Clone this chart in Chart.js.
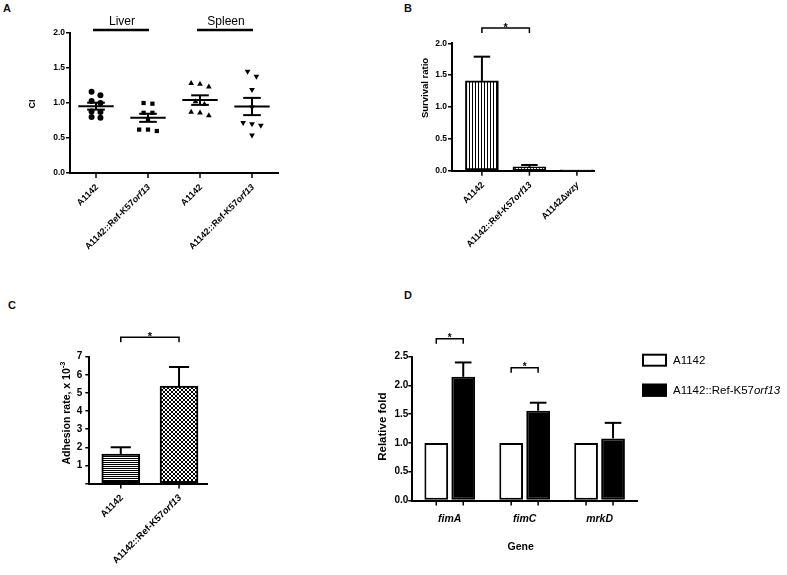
<!DOCTYPE html>
<html>
<head>
<meta charset="utf-8">
<script src="https://cdn.jsdelivr.net/npm/chart.js@4.4.1/dist/chart.umd.min.js"></script>
<style>
  body { margin: 0; width: 787px; height: 575px; background: #fff; position: relative; overflow: hidden;
         font-family: "Liberation Sans", Arial, sans-serif; }
  canvas { position: absolute; }
  .tag { position: absolute; font-weight: bold; font-size: 11px; line-height: 11px; color: #111; }
</style>
</head>
<body>
<div class="tag" style="left:3px;top:3px">A</div>
<div class="tag" style="left:404px;top:3px">B</div>
<div class="tag" style="left:8px;top:300px">C</div>
<div class="tag" style="left:404px;top:290px">D</div>
<canvas id="chartA"></canvas>
<canvas id="chartB"></canvas>
<canvas id="chartC"></canvas>
<canvas id="chartD"></canvas>
<script>
// ---- data ----
// A: competitive index, liver / spleen
const groupsA = ['A1142', 'A1142::Ref-K57orf13', 'A1142', 'A1142::Ref-K57orf13'];
const liverWt = [1.16, 1.11, 1.03, 1.00, 0.88, 0.87, 0.80, 0.79];
const liverRef = [1.00, 0.99, 0.86, 0.86, 0.76, 0.62, 0.60, 0.62];
const spleenWt = [1.28, 1.27, 1.23, 1.02, 0.98, 0.87, 0.86, 0.82];
const spleenRef = [1.45, 1.38, 1.19, 0.94, 0.72, 0.70, 0.68, 0.54];
const organs = ['Liver', 'Spleen'];

// B: survival ratio
const strainsB = ['A1142', 'A1142::Ref-K57orf13', 'A1142\u0394wzy'];
const survival = [1.41, 0.06, 0.01];
const survivalErr = [0.38, 0.03, 0];

// C: adhesion rate (x 10^-3)
const strainsC = ['A1142', 'A1142::Ref-K57orf13'];
const adhesion = [1.62, 5.38];
const adhesionErr = [0.38, 1.05];

// D: relative fold per gene
const genes = ['fimA', 'fimC', 'mrkD'];
const seriesD = ['A1142', 'A1142::Ref-K57orf13'];
const foldWt = [1, 1, 1];
const foldRef = [2.15, 1.56, 1.08];
const foldRefErr = [0.25, 0.14, 0.27];

// significance brackets: [from bar, to bar, height in axis units]
const sigB = [[0, 1, 2.24]];
const sigC = [[0, 1, 8.08]];
const sigD = [[0, 2.81], [1, 2.31]];

const FONT = '"Liberation Sans", Arial, sans-serif';
Chart.defaults.font.family = FONT;
Chart.defaults.color = '#000';

function font(size, bold, italic) {
  return (italic ? 'italic ' : '') + (bold ? 'bold ' : '') + size + 'px ' + FONT;
}

function richParts(label, allItalic) {
  if (allItalic) return [{t: label, i: true}];
  return label.split(/(orf13|wzy)/).filter(s => s).map(s => ({t: s, i: /^(orf13|wzy)$/.test(s)}));
}

function drawParts(ctx, parts, x, y, angle, size, bold, align) {
  ctx.save();
  ctx.translate(x, y);
  ctx.rotate(angle);
  ctx.textBaseline = 'middle';
  ctx.textAlign = 'left';
  ctx.fillStyle = '#000';
  let widths = parts.map(p => { ctx.font = font(p.sup ? size * 0.7 : size, bold, p.i); return ctx.measureText(p.t).width; });
  let total = widths.reduce((a, b) => a + b, 0);
  let cx = align === 'right' ? -total : (align === 'center' ? -total / 2 : 0);
  parts.forEach((p, k) => {
    ctx.font = font(p.sup ? size * 0.7 : size, bold, p.i);
    ctx.fillText(p.t, cx, p.sup ? -size * 0.4 : 0);
    cx += widths[k];
  });
  ctx.restore();
}

function line(ctx, x1, y1, x2, y2, w) {
  ctx.lineWidth = w;
  ctx.beginPath();
  ctx.moveTo(x1, y1);
  ctx.lineTo(x2, y2);
  ctx.stroke();
}

function tickMarks(chart, xs) {
  let b = chart.chartArea.bottom;
  xs.forEach(px => line(chart.ctx, px, b, px, b + 5, 1.5));
}

function slantLabels(chart, xs, labels, size) {
  let b = chart.chartArea.bottom;
  xs.forEach((px, i) => drawParts(chart.ctx, richParts(labels[i]), px + 1, b + 13, -Math.PI / 4, size, true, 'right'));
}

// vertical axis title, placed relative to the plot area
function yTitle(chart, parts, dx, dy, size) {
  let area = chart.chartArea;
  drawParts(chart.ctx, parts, area.left + dx, (area.top + area.bottom) / 2 + dy, -Math.PI / 2, size, true, 'center');
}

function errorBars(chart, dsIndex, values, errs, capFrac) {
  let ctx = chart.ctx, y = chart.scales.y;
  chart.getDatasetMeta(dsIndex).data.forEach((el, i) => {
    if (!errs[i]) return;
    let top = y.getPixelForValue(values[i] + errs[i]);
    let half = el.width * capFrac / 2;
    line(ctx, el.x, el.y, el.x, top, 2);
    line(ctx, el.x - half, top, el.x + half, top, 2);
  });
}

function bracket(chart, x1, x2, level, starSize) {
  let ctx = chart.ctx;
  let py = chart.scales.y.getPixelForValue(level);
  ctx.lineWidth = 1.5;
  ctx.beginPath();
  ctx.moveTo(x1, py + 5);
  ctx.lineTo(x1, py);
  ctx.lineTo(x2, py);
  ctx.lineTo(x2, py + 5);
  ctx.stroke();
  ctx.font = font(starSize, true, false);
  ctx.textAlign = 'center';
  ctx.textBaseline = 'alphabetic';
  ctx.fillText('*', (x1 + x2) / 2, py - 1 + starSize * 0.35);
}

function pattern(w, h, cells) {
  let c = document.createElement('canvas');
  c.width = w; c.height = h;
  let g = c.getContext('2d');
  g.fillStyle = '#fff';
  g.fillRect(0, 0, w, h);
  g.fillStyle = '#000';
  cells.forEach(p => g.fillRect(p[0], p[1], 1, 1));
  return g.createPattern(c, 'repeat');
}

const vStripes = pattern(3, 1, [[0, 0]]);
const dots = pattern(3, 2, [[1, 0]]);
const hLines = pattern(1, 2, [[0, 0]]);
const crossHatch = pattern(4, 4, [[0, 0], [1, 1], [2, 2], [3, 3], [3, 0], [2, 1], [1, 2], [0, 3]]);

function place(id, box, area, yw, xh) {
  let c = document.getElementById(id);
  c.width = box.w; c.height = box.h;
  c.style.left = box.l + 'px'; c.style.top = box.t + 'px';
  c.style.width = box.w + 'px'; c.style.height = box.h + 'px';
  return {
    canvas: c,
    padding: {
      left: area.l - box.l - yw,
      top: area.t - box.t,
      right: box.l + box.w - area.r,
      bottom: box.t + box.h - area.b - xh
    }
  };
}

function valueAxis(min, max, step, width, opts) {
  return {
    type: 'linear', min: min, max: max,
    border: {display: true, color: '#000', width: 2},
    grid: {drawOnChartArea: false, drawTicks: true, tickLength: 4, color: '#000', lineWidth: 1.5},
    ticks: {stepSize: step, padding: opts.pad, color: '#000', font: {size: opts.size, weight: 'bold'},
            callback: v => opts.digits ? v.toFixed(opts.digits) : (v === 0 ? '' : String(v))},
    title: {display: false},
    afterFit(s) { s.width = width; }
  };
}

function indexAxis(type, min, max, height) {
  let ax = {
    type: type,
    offset: type !== 'linear',
    border: {display: true, color: '#000', width: 2},
    grid: {display: false, offset: false},
    ticks: {display: false},
    afterFit(s) { s.height = height; }
  };
  if (type === 'linear') { ax.min = min; ax.max = max; }
  return ax;
}

// ---------------- Panel A ----------------
function spread(values, center) {
  let sorted = [...values].sort((a, b) => b - a);
  let rows = [];
  sorted.forEach(v => {
    let row = rows[rows.length - 1];
    if (row && row[0] - v < 0.075 && row.length < 3) row.push(v);
    else rows.push([v]);
  });
  let pts = [];
  rows.forEach(row => row.forEach((v, k) => pts.push({x: center + (k - (row.length - 1) / 2) * 0.17, y: v})));
  return pts;
}

const groupValuesA = [liverWt, liverRef, spleenWt, spleenRef];
const markerA = [
  {pointStyle: 'circle', rotation: 0, pointRadius: 3},
  {pointStyle: 'rect', rotation: 0, pointRadius: 3},
  {pointStyle: 'triangle', rotation: 0, pointRadius: 3.3},
  {pointStyle: 'triangle', rotation: 180, pointRadius: 3.3}
];

const decorA = {
  id: 'decorA',
  afterDatasetsDraw(chart) {
    let ctx = chart.ctx, x = chart.scales.x, y = chart.scales.y, area = chart.chartArea;
    ctx.save();
    ctx.strokeStyle = '#000';
    groupValuesA.forEach((vals, g) => {
      let n = vals.length;
      let mean = vals.reduce((a, b) => a + b, 0) / n;
      let sd = Math.sqrt(vals.reduce((a, b) => a + (b - mean) * (b - mean), 0) / (n - 1));
      let sem = sd / Math.sqrt(n);
      let cx = x.getPixelForValue(g);
      let pm = y.getPixelForValue(mean), pu = y.getPixelForValue(mean + sem), pl = y.getPixelForValue(mean - sem);
      line(ctx, x.getPixelForValue(g - 0.34), pm, x.getPixelForValue(g + 0.34), pm, 2);
      line(ctx, cx, pu, cx, pl, 2);
      line(ctx, x.getPixelForValue(g - 0.17), pu, x.getPixelForValue(g + 0.17), pu, 2);
      line(ctx, x.getPixelForValue(g - 0.17), pl, x.getPixelForValue(g + 0.17), pl, 2);
    });
    let centers = groupsA.map((_, i) => x.getPixelForValue(i));
    tickMarks(chart, centers);
    slantLabels(chart, centers, groupsA, 9);
    organs.forEach((name, k) => {
      let a = centers[2 * k], b = centers[2 * k + 1];
      line(ctx, a - 3, area.top - 3, b + 1, area.top - 3, 2.5);
      ctx.font = font(12, false, false);
      ctx.fillStyle = '#000';
      ctx.textAlign = 'center';
      ctx.textBaseline = 'middle';
      ctx.fillText(name, (a + b) / 2, area.top - 11);
    });
    yTitle(chart, [{t: 'CI'}], -37, 1, 9);
    ctx.restore();
  }
};

const boxA = place('chartA', {l: 0, t: 0, w: 400, h: 280}, {l: 70, t: 33, r: 278, b: 173}, 42, 100);
new Chart(boxA.canvas, {
  type: 'scatter',
  data: {
    datasets: groupValuesA.map((vals, g) => Object.assign({
      data: spread(vals, g),
      backgroundColor: '#000',
      borderColor: '#000',
      borderWidth: 0
    }, markerA[g]))
  },
  options: {
    responsive: false,
    animation: false,
    devicePixelRatio: 1,
    layout: {padding: boxA.padding},
    plugins: {legend: {display: false}, tooltip: {enabled: false}},
    scales: {
      x: indexAxis('linear', -0.5, 3.5, 100),
      y: valueAxis(0, 2, 0.5, 42, {digits: 1, size: 8.5, pad: 1})
    }
  },
  plugins: [decorA]
});

// ---------------- Panel B ----------------
const decorB = {
  id: 'decorB',
  afterDatasetsDraw(chart) {
    let ctx = chart.ctx;
    ctx.save();
    ctx.strokeStyle = '#000';
    ctx.fillStyle = '#000';
    errorBars(chart, 0, survival, survivalErr, 0.5);
    let xs = chart.getDatasetMeta(0).data.map(el => el.x);
    tickMarks(chart, xs);
    slantLabels(chart, xs, strainsB, 9);
    sigB.forEach(s => bracket(chart, xs[s[0]], xs[s[1]], s[2], 11));
    yTitle(chart, [{t: 'Survival ratio'}], -27, -19, 9.5);
    ctx.restore();
  }
};

const boxB = place('chartB', {l: 400, t: 0, w: 387, h: 280}, {l: 452, t: 43.3, r: 594, b: 170.7}, 32.5, 100);
new Chart(boxB.canvas, {
  type: 'bar',
  data: {
    datasets: [{
      data: survival.map((v, i) => ({x: i, y: v})),
      backgroundColor: [vStripes, dots, dots],
      borderColor: '#000',
      borderWidth: 2,
      borderSkipped: false,
      barThickness: 33
    }]
  },
  options: {
    responsive: false,
    animation: false,
    devicePixelRatio: 1,
    layout: {padding: boxB.padding},
    plugins: {legend: {display: false}, tooltip: {enabled: false}},
    scales: {
      x: indexAxis('linear', -0.63, 2.36, 100),
      y: valueAxis(0, 2, 0.5, 32.5, {digits: 1, size: 8.5, pad: 1})
    }
  },
  plugins: [decorB]
});

// ---------------- Panel C ----------------
const decorC = {
  id: 'decorC',
  afterDatasetsDraw(chart) {
    let ctx = chart.ctx;
    ctx.save();
    ctx.strokeStyle = '#000';
    ctx.fillStyle = '#000';
    errorBars(chart, 0, adhesion, adhesionErr, 0.53);
    let xs = chart.getDatasetMeta(0).data.map(el => el.x);
    tickMarks(chart, xs);
    slantLabels(chart, xs, strainsC, 9.5);
    sigC.forEach(s => bracket(chart, xs[s[0]], xs[s[1]], s[2], 11));
    yTitle(chart, [{t: 'Adhesion rate, x 10'}, {t: '-3', sup: true}], -22.5, -7, 10.5);
    ctx.restore();
  }
};

const boxC = place('chartC', {l: 0, t: 280, w: 370, h: 295}, {l: 89.3, t: 356.7, r: 207, b: 483.5}, 30, 80);
new Chart(boxC.canvas, {
  type: 'bar',
  data: {
    datasets: [{
      data: adhesion.map((v, i) => ({x: i, y: v})),
      backgroundColor: [hLines, crossHatch],
      borderColor: '#000',
      borderWidth: 2,
      borderSkipped: false,
      barThickness: 38
    }]
  },
  options: {
    responsive: false,
    animation: false,
    devicePixelRatio: 1,
    layout: {padding: boxC.padding},
    plugins: {legend: {display: false}, tooltip: {enabled: false}},
    scales: {
      x: indexAxis('linear', -0.54, 1.48, 80),
      y: valueAxis(0, 7, 1, 30, {digits: 0, size: 10, pad: 3})
    }
  },
  plugins: [decorC]
});

// ---------------- Panel D ----------------
const decorD = {
  id: 'decorD',
  afterDatasetsDraw(chart) {
    let ctx = chart.ctx, x = chart.scales.x, area = chart.chartArea;
    ctx.save();
    ctx.strokeStyle = '#000';
    ctx.fillStyle = '#000';
    errorBars(chart, 1, foldRef, foldRefErr, 0.7);
    let wt = chart.getDatasetMeta(0).data, ref = chart.getDatasetMeta(1).data;
    tickMarks(chart, wt.map(el => el.x).concat(ref.map(el => el.x)));
    sigD.forEach(s => bracket(chart, wt[s[0]].x, ref[s[0]].x, s[1], 10));
    genes.forEach((g, i) => drawParts(ctx, richParts(g, true), x.getPixelForValue(i), area.bottom + 19, 0, 10.5, true, 'center'));
    drawParts(ctx, [{t: 'Gene'}], (area.left + area.right) / 2 - 4, area.bottom + 47, 0, 10.5, true, 'center');
    yTitle(chart, [{t: 'Relative fold'}], -29.6, -2, 11.5);
    // legend
    let lx = area.right + 5;
    chart.data.datasets.forEach((ds, k) => {
      let ty = area.top - 3 + k * 30;
      ctx.fillStyle = ds.backgroundColor;
      ctx.fillRect(lx, ty, 25, 13);
      ctx.lineWidth = 2;
      ctx.strokeStyle = '#000';
      ctx.strokeRect(lx + 1, ty + 1, 23, 11);
      drawParts(ctx, richParts(seriesD[k]), lx + 31, ty + 7, 0, 11.5, false, 'left');
    });
    ctx.restore();
  }
};

const boxD = place('chartD', {l: 370, t: 280, w: 417, h: 295}, {l: 412.3, t: 356.7, r: 637, b: 500.5}, 36, 60);
new Chart(boxD.canvas, {
  type: 'bar',
  data: {
    labels: genes,
    datasets: [
      {label: seriesD[0], data: foldWt, backgroundColor: '#fff', borderColor: '#000', borderWidth: 2, borderSkipped: false},
      {label: seriesD[1], data: foldRef, backgroundColor: '#000', borderColor: '#000', borderWidth: 2, borderSkipped: false}
    ]
  },
  options: {
    responsive: false,
    animation: false,
    devicePixelRatio: 1,
    layout: {padding: boxD.padding},
    categoryPercentage: 0.72,
    barPercentage: 0.88,
    plugins: {legend: {display: false}, tooltip: {enabled: false}},
    scales: {
      x: indexAxis('category', 0, 0, 60),
      y: valueAxis(0, 2.5, 0.5, 36, {digits: 1, size: 10, pad: 0})
    }
  },
  plugins: [decorD]
});
</script>
</body>
</html>
